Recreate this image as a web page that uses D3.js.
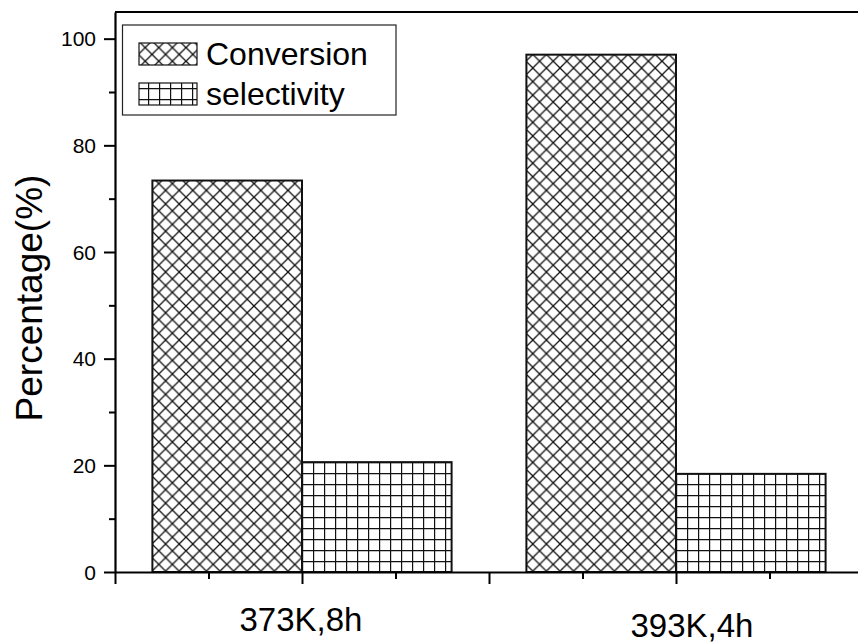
<!DOCTYPE html>
<html><head><meta charset="utf-8">
<script src="https://cdn.jsdelivr.net/npm/d3@7/dist/d3.min.js"></script>
<style>body{margin:0;background:#fff}svg{display:block}text{font-family:"Liberation Sans",Arial,sans-serif;fill:#000}</style>
</head><body>
<svg id="c" width="858" height="643"></svg>
<script>
const categories = ["373K,8h", "393K,4h"];
const categoryPos = [1, 3];
const seriesNames = ["Conversion", "selectivity"];
const conversion = [73.4, 97.0];
const selectivity = [20.6, 18.4];
const yTicks = [0, 20, 40, 60, 80, 100];

const svg = d3.select("#c");
const x = d3.scaleLinear().domain([0, 4]).range([115, 863]);
const y = d3.scaleLinear().domain([0, 105]).range([572, 12]);

const defs = svg.append("defs");
const cw = 13.6;
const pc = defs.append("pattern").attr("id","cross").attr("patternUnits","userSpaceOnUse")
  .attr("width",cw).attr("height",cw).attr("x",152).attr("y",0);
pc.append("rect").attr("width",cw).attr("height",cw).attr("fill","#fff");
pc.append("path").attr("d",`M0,0L${cw},${cw}M${cw},0L0,${cw}M-1,${cw-1}L1,${cw+1}M${cw-1},-1L${cw+1},1`)
  .attr("stroke","#111").attr("stroke-width",1.3).attr("fill","none");
const gw = 11;
const pg = defs.append("pattern").attr("id","grid").attr("patternUnits","userSpaceOnUse")
  .attr("width",gw).attr("height",gw).attr("x",302).attr("y",462);
pg.append("rect").attr("width",gw).attr("height",gw).attr("fill","#fff");
pg.append("path").attr("d",`M0.5,0V${gw}M0,0.5H${gw}`)
  .attr("stroke","#111").attr("stroke-width",1.4).attr("fill","none");

const barW = 0.8;
const bars = [];
categories.forEach((c,i)=>{
  bars.push({x0: categoryPos[i]-barW, x1: categoryPos[i], v: conversion[i], fill:"url(#cross)"});
  bars.push({x0: categoryPos[i], x1: categoryPos[i]+barW, v: selectivity[i], fill:"url(#grid)"});
});
svg.append("g").selectAll("rect").data(bars).join("rect")
  .attr("x", d=>x(d.x0)).attr("width", d=>x(d.x1)-x(d.x0))
  .attr("y", d=>y(d.v)).attr("height", d=>y(0)-y(d.v))
  .attr("fill", d=>d.fill).attr("stroke","#111").attr("stroke-width",2);

// top frame
svg.append("line").attr("x1",x(0)).attr("x2",858).attr("y1",y(105)).attr("y2",y(105))
  .attr("stroke","#000").attr("stroke-width",2.2);

// y axis
const yAxis = svg.append("g").attr("transform",`translate(${x(0)},0)`)
  .call(d3.axisLeft(y).tickValues(yTicks).tickSize(11).tickSizeOuter(0).tickPadding(8));
yAxis.selectAll("text").style("font-size","21px").attr("dy","0.34em");
svg.append("g").attr("transform",`translate(${x(0)},0)`)
  .call(d3.axisLeft(y).tickValues([10,30,50,70,90]).tickSize(6).tickSizeOuter(0).tickFormat(""))
  .select(".domain").remove();

// x axis
const xAxis = svg.append("g").attr("transform",`translate(0,${y(0)})`)
  .call(d3.axisBottom(x).tickValues([0,1,2,3,4]).tickSize(12).tickSizeOuter(0).tickFormat(""));
svg.append("g").attr("transform",`translate(0,${y(0)})`)
  .call(d3.axisBottom(x).tickValues([0.5,1.5,2.5,3.5]).tickSize(7).tickSizeOuter(0).tickFormat(""))
  .select(".domain").remove();
svg.selectAll(".domain").attr("stroke-width",2.2);
svg.selectAll(".tick line").attr("stroke-width",2);

// category labels
const nudge = [{dx:-1, base:631},{dx:16, base:637}];
svg.append("g").selectAll("text").data(categories).join("text")
  .attr("x",(d,i)=>x(categoryPos[i])+nudge[i].dx).attr("y",(d,i)=>nudge[i].base)
  .attr("text-anchor","middle").style("font-size","33px").text(d=>d);

// y label
svg.append("text").attr("transform","translate(42,298) rotate(-90)")
  .attr("text-anchor","middle").style("font-size","37px").text("Percentage(%)");

// legend
const lg = svg.append("g");
lg.append("rect").attr("x",122.5).attr("y",25).attr("width",273.5).attr("height",90)
  .attr("fill","#fff").attr("stroke","#222").attr("stroke-width",1.2);
const legFills = ["url(#cross)","url(#grid)"];
const legY = [43, 83];
seriesNames.forEach((n,i)=>{
  lg.append("rect").attr("x",139).attr("y",legY[i]).attr("width",58).attr("height",22)
    .attr("fill",legFills[i]).attr("stroke","#111").attr("stroke-width",1.2);
  lg.append("text").attr("x",206).attr("y",legY[i]+22).style("font-size","32px").text(n);
});
</script>
</body></html>
